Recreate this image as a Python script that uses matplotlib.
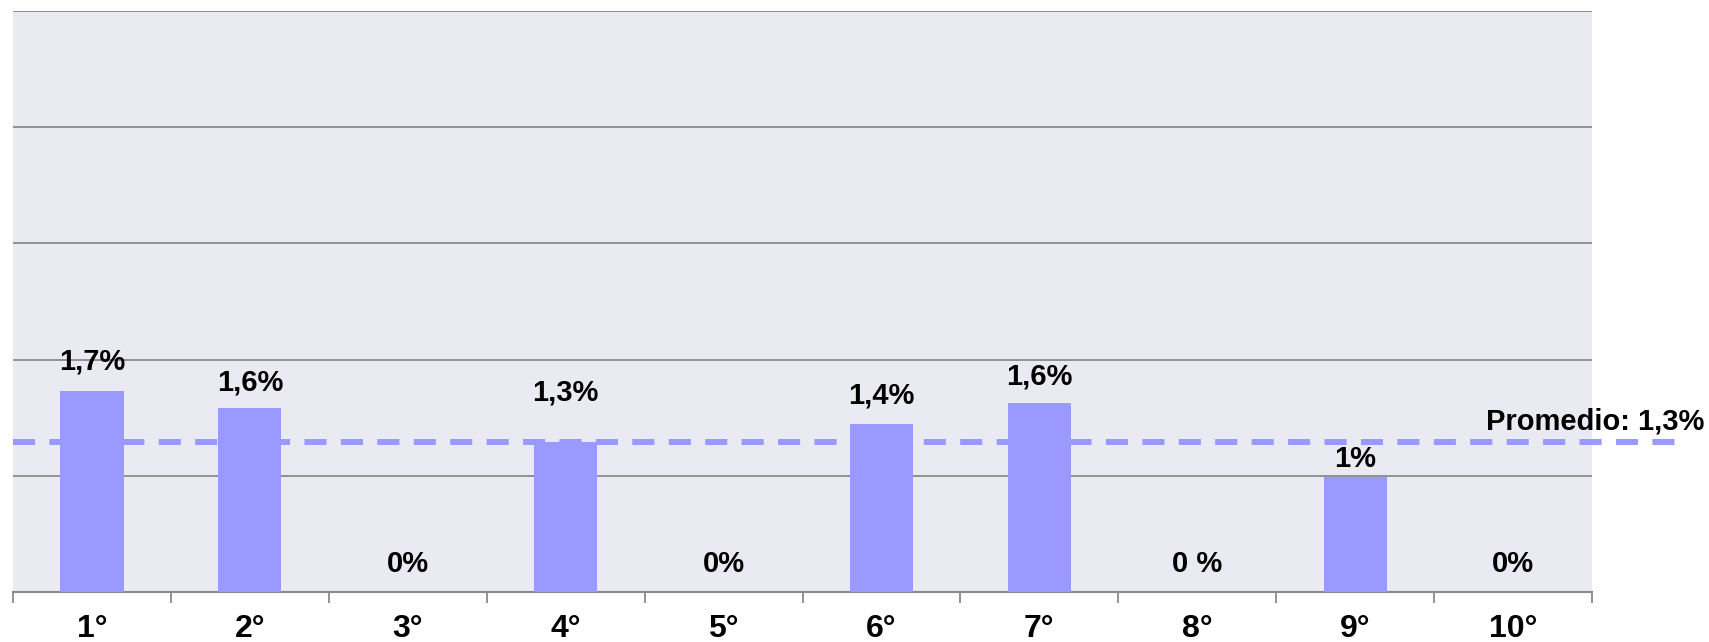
import matplotlib
matplotlib.use("Agg")
import matplotlib.pyplot as plt
import numpy as np

categories = ["1°", "2°", "3°", "4°", "5°", "6°", "7°", "8°", "9°", "10°"]
values = [1.73, 1.58, 0, 1.29, 0, 1.45, 1.63, 0, 0.99, 0]
value_labels = ["1,7%", "1,6%", "0%", "1,3%", "0%", "1,4%", "1,6%", "0 %", "1%", "0%"]
average = 1.29
average_label = "Promedio: 1,3%"

# vertical nudges (points) of the value labels' centres above the bar tops
label_offsets = [21, 19, 20, 36, 20, 20, 19, 20, 13, 20]

plt.rcParams['font.family'] = ['Liberation Sans', 'DejaVu Sans']

fig = plt.figure(figsize=(17.09, 6.42), dpi=100)
ax = fig.add_axes([13/1709, 50/642, 1579/1709, 581/642])
ax.set_facecolor("#EAEAF2")

x = np.arange(len(categories))
ax.bar(x, values, width=0.4, color="#9999FF", zorder=3)

ax.set_xlim(-0.5, len(categories) - 0.5)
ax.set_ylim(0, 5)
ax.set_yticks([1, 2, 3, 4, 5])
ax.yaxis.grid(True, color="#8A8A8A", linewidth=1.3, zorder=1)
ax.tick_params(axis='y', left=False, labelleft=False)

ax.set_xticks(np.arange(-0.5, len(categories), 1.0))
ax.set_xticklabels([])
ax.tick_params(axis='x', which='major', length=8, width=1.3, color="#8A8A8A", direction='out')
ax.set_xticks(x, minor=True)
ax.set_xticklabels(categories, minor=True, fontsize=23, fontweight='bold')
ax.tick_params(axis='x', which='minor', length=0, pad=16)

for s in ['left', 'right', 'top']:
    ax.spines[s].set_visible(False)
ax.spines['bottom'].set_color("#8A8A8A")
ax.spines['bottom'].set_linewidth(1.5)

for xi, v, lab, off in zip(x, values, value_labels, label_offsets):
    ax.annotate(lab, (xi, v), xytext=(0, off), textcoords='offset points',
                ha='center', va='center', fontsize=21, fontweight='bold', zorder=5)

ax.plot([-0.5, 10.03], [average, average], color="#9999FF", linewidth=4.3,
        linestyle=(0, (3.7, 2.4)), clip_on=False, zorder=4)
ax.annotate(average_label, (10.03, average), xytext=(20.5, 15), textcoords='offset points',
            ha='right', va='center', fontsize=21, fontweight='bold', annotation_clip=False)

fig.savefig("out.png", dpi=100)
